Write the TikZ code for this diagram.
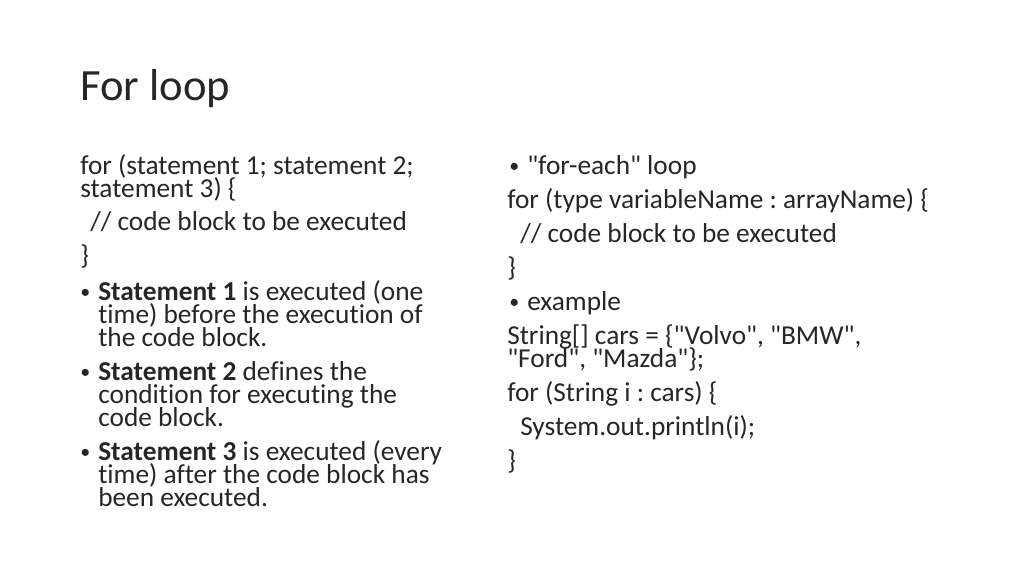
\documentclass[tikz,border=0pt]{standalone}
\usepackage{fontspec}
\setmainfont{Carlito}[Ligatures={NoCommon},Mapping=]
\newcommand\dq{\symbol{34}}
\begin{document}
\frenchspacing
\begin{tikzpicture}[x=0.75pt,y=-0.75pt,
  txt/.style={anchor=base west,inner sep=0pt,font=\fontsize{20.5}{22}\selectfont,text=black!85},
  bul/.style={anchor=base west,inner sep=0pt,font=\fontsize{15}{16}\selectfont,text=black!85},
  ttl/.style={anchor=base west,inner sep=0pt,font=\fontsize{33.5}{36}\selectfont,text=black!85}]
\useasboundingbox[fill=white] (0,0) rectangle (1024,576);
\node[ttl] (title) at (80,100) {For loop};
% left column
\node[txt] (l1) at (80,174) {for (statement 1; statement 2;};
\node[txt] (l2) at (80,197) {statement 3) \{};
\node[txt] (l3) at (90,230) {// code block to be executed};
\node[txt] (l4) at (80,264) {\}};
\node[bul] (b1) at (80,298) {•};
\node[txt] (l5) at (98,300) {\textbf{Statement 1} is executed (one};
\node[txt] (l6) at (98,323) {time) before the execution of};
\node[txt] (l7) at (98,346) {the code block.};
\node[bul] (b2) at (80,378) {•};
\node[txt] (l8) at (98,380) {\textbf{Statement 2} defines the};
\node[txt] (l9) at (98,403) {condition for executing the};
\node[txt] (l10) at (98,426) {code block.};
\node[bul] (b3) at (80,458) {•};
\node[txt] (l11) at (98,460) {\textbf{Statement 3} is executed (every};
\node[txt] (l12) at (98,483) {time) after the code block has};
\node[txt] (l13) at (98,506) {been executed.};
% right column
\node[bul] (b4) at (509,172) {•};
\node[txt] (r1) at (527,174) {\dq for-each\dq{} loop};
\node[txt] (r2) at (507,208) {for (type variableName : arrayName) \{};
\node[txt] (r3) at (520,242) {// code block to be executed};
\node[txt] (r4) at (507,276) {\}};
\node[bul] (b5) at (509,308) {•};
\node[txt] (r5) at (527,310) {example};
\node[txt] (r6) at (507,344) {String[] cars = \{\dq Volvo\dq, \dq BMW\dq,};
\node[txt] (r7) at (507,367) {\dq Ford\dq, \dq Mazda\dq\};};
\node[txt] (r8) at (507,401) {for (String i : cars) \{};
\node[txt] (r9) at (520,435) {System.out.println(i);};
\node[txt] (r10) at (507,469) {\}};
\end{tikzpicture}
\end{document}
